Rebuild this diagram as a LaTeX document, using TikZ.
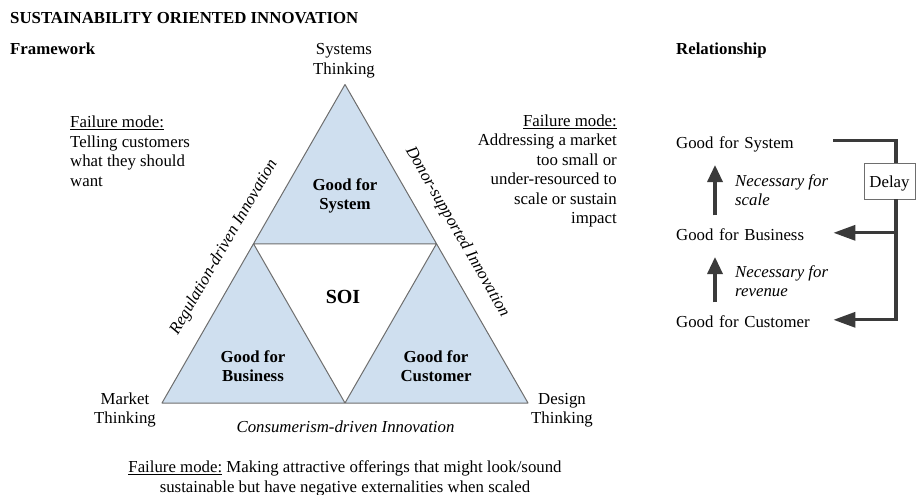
\documentclass[tikz,border=0pt]{standalone}
\usepackage{fontspec}
\setmainfont{Liberation Serif}
\usetikzlibrary{arrows.meta}
\definecolor{tri}{HTML}{CFDFEF}
\definecolor{edgec}{HTML}{6E6E6E}
\definecolor{arr}{HTML}{3A3A3A}
\begin{document}
\begin{tikzpicture}[x=1pt,y=-1pt,
  txt/.style={font=\fontsize{16.8}{19.5}\selectfont, inner sep=0pt},
  bld/.style={inner sep=0pt, font=\fontsize{16.8}{19.5}\selectfont\bfseries},
  itl/.style={inner sep=0pt, font=\fontsize{16.8}{19.5}\selectfont\itshape},
  relbox/.style={txt, anchor=west, text width=157pt, text height=13pt, text depth=3pt},
  conn/.style={draw=arr, line width=3.3pt},
  harrow/.style={-{Triangle[length=22pt,width=15pt]}},
  varrow/.style={-{Triangle[length=17pt,width=15pt]}},
  triedge/.style={draw=edgec, line width=1pt, line join=round}]
\useasboundingbox (0,0) rectangle (918,495);
% triangle
\coordinate (T) at (345,84.5);
\coordinate (BL) at (162,403);
\coordinate (BR) at (528,403);
\coordinate (ML) at (253.5,243.75);
\coordinate (MR) at (436.5,243.75);
\coordinate (MB) at (345,403);
\fill[tri] (T) -- (BL) -- (BR) -- cycle;
\fill[white] (ML) -- (MR) -- (MB) -- cycle;
\draw[triedge] (T) -- (BL) -- (BR) -- cycle (ML) -- (MR) -- (MB) -- cycle;
% headings
\node[bld, anchor=west] (title) at (10,18) {SUSTAINABILITY ORIENTED INNOVATION};
\node[bld, anchor=west] (fw) at (10,48.5) {Framework};
\node[bld, anchor=west] (rel) at (676,50) {Relationship};
% vertex labels
\node[txt, align=center] (sysT) at (344,61) {Systems\\Thinking};
\node[txt, align=center] (mktT) at (125,410) {Market\\Thinking};
\node[txt, align=center] (desT) at (562,410) {Design\\Thinking};
% failure modes
\node[txt, align=left, anchor=west] (failL) at (70,151.5) {\underline{Failure mode:}\\Telling customers\\what they should\\want};
\node[txt, align=right, anchor=east] (failR) at (617,171) {\underline{Failure mode:}\\Addressing a market\\too small or\\under-resourced to\\scale or sustain\\impact};
\node[txt, align=center] (failB) at (345,478.5) {\underline{Failure mode:} Making attractive offerings that might look/sound\\sustainable but have negative externalities when scaled};
% inner labels
\node[bld, align=center] (gsys) at (345,196) {Good for\\System};
\node[bld, align=center] (gbus) at (253,366) {Good for\\Business};
\node[bld, align=center] (gcus) at (436,366) {Good for\\Customer};
\node[inner sep=0pt, font=\fontsize{20}{24}\selectfont\bfseries] (soi) at (343,297) {SOI};
% edge labels
\path (BL) -- node[itl, sloped, above=16pt, pos=.452] (reg) {Regulation-driven Innovation} (T);
\path (T) -- node[itl, sloped, above=16pt, pos=.5] (don) {Donor-supported Innovation} (BR);
\node[itl] (con) at (345.5,426.5) {Consumerism-driven Innovation};
% relationship
\node[relbox] (rsys) at (676,143.6) {Good for System};
\node[relbox] (rbus) at (676,235.6) {Good for Business};
\node[relbox] (rcus) at (676,322.6) {Good for Customer};
\node[itl, align=left, anchor=west] (nec1) at (735,190) {Necessary for\\scale};
\node[itl, align=left, anchor=west] (nec2) at (735,281) {Necessary for\\revenue};
\node[txt, draw=edgec, line width=0.8pt, minimum width=51pt, minimum height=36pt, text height=12pt, text depth=0pt] (delay) at (889.5,181) {Delay};
\coordinate (vx) at (896,0);
\coordinate (ax) at (715,0);
\coordinate (sysout) at ([yshift=2.8pt]rsys.east);
\coordinate (busin) at ([yshift=2.8pt]rbus.east);
\coordinate (cusin) at ([yshift=2.8pt]rcus.east);
\draw[conn] (sysout) -| (vx |- delay.north);
\draw[conn, harrow] (vx |- delay.south) |- (cusin);
\draw[conn, harrow] (vx |- busin) -- (busin);
\draw[conn, varrow, shorten <=12pt, shorten >=13.2pt] (ax |- rbus.north) -- (ax |- rsys.south);
\draw[conn, varrow, shorten <=12pt, shorten >=13.2pt] (ax |- rcus.north) -- (ax |- rbus.south);
\end{tikzpicture}
\end{document}
